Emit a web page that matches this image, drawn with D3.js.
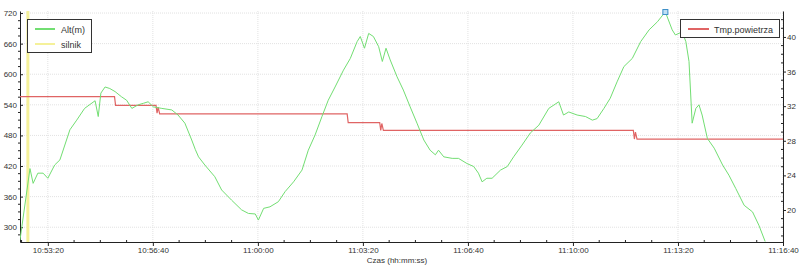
<!DOCTYPE html>
<html>
<head>
<meta charset="utf-8">
<script src="https://cdn.jsdelivr.net/npm/d3@7"></script>
<style>
  body { margin: 0; background: #fff; }
  svg { display: block; font-family: "Liberation Sans", Arial, sans-serif; }
  .axis text { font-size: 8px; fill: #333; }
  .axis path, .axis line { stroke: #222; }
</style>
</head>
<body>
<div class="canvas"></div>
<script>
// altitude readings (time, metres)
const altTimes = ["10:52:27","10:52:46","10:52:52","10:53:01","10:53:11","10:53:20","10:53:33","10:53:43","10:54:02","10:54:15",
  "10:54:30","10:54:50","10:54:56","10:55:01","10:55:09","10:55:18","10:55:28","10:55:40","10:55:50","10:56:00",
  "10:56:12","10:56:22","10:56:31","10:56:41","10:56:57","10:57:16","10:57:28","10:57:41","10:57:54","10:58:01",
  "10:58:07","10:58:19","10:58:38","10:58:51","10:59:10","10:59:29","10:59:42","10:59:55","11:00:01","11:00:11",
  "11:00:23","11:00:39","11:00:52","11:01:08","11:01:24","11:01:36","11:01:49","11:02:02","11:02:14","11:02:27",
  "11:02:43","11:02:56","11:03:09","11:03:15","11:03:23","11:03:31","11:03:40","11:03:50","11:03:57","11:04:04",
  "11:04:12","11:04:25","11:04:37","11:04:50","11:05:03","11:05:16","11:05:28","11:05:38","11:05:44","11:05:54",
  "11:06:10","11:06:22","11:06:38","11:06:51","11:07:00","11:07:07","11:07:16","11:07:26","11:07:42","11:07:55",
  "11:08:07","11:08:23","11:08:39","11:08:55","11:09:14","11:09:33","11:09:42","11:09:52","11:10:08","11:10:24",
  "11:10:37","11:10:46","11:10:59","11:11:11","11:11:24","11:11:37","11:11:53","11:12:09","11:12:25","11:12:41",
  "11:12:51","11:12:56","11:13:09","11:13:15","11:13:28","11:13:35","11:13:41","11:13:47","11:13:54","11:14:00",
  "11:14:06","11:14:16","11:14:29","11:14:45","11:14:57","11:15:10","11:15:26","11:15:42","11:15:54","11:16:06"];
const altValues = [275,415,386,406,406,396,422,432,491,510,
  533,548,517,563,575,572,566,556,549,533,
  540,543,546,536,533,530,520,504,471,452,
  438,422,399,373,353,334,327,326,314,337,
  340,350,370,389,412,451,481,517,549,575,
  608,631,664,674,651,680,674,654,625,651,
  628,595,569,536,504,471,451,442,451,438,
  435,435,425,419,406,389,396,396,412,419,
  438,461,485,500,533,546,520,526,520,517,
  510,513,533,553,585,615,631,664,687,703,
  716,722,687,677,683,664,625,504,533,540,
  520,474,455,422,402,376,343,330,304,272];

// air temperature (time, deg C)
const tempTimes = ["10:52:27","10:55:27","10:55:29","10:56:46","10:56:48","10:56:50","10:56:53","11:02:50","11:02:52",
  "11:03:52","11:03:54","11:03:56","11:03:59","11:11:55","11:11:57","11:11:59","11:12:02","11:16:40"];
const tempValues = [33.1,33.1,32.1,32.1,31.2,31.9,31.1,31.1,30.1,
  30.1,29.2,30.0,29.2,29.2,28.2,29.0,28.2,28.2];

// engine ("silnik") marker time
const engineTime = "10:52:42";

const xTickLabels = ["10:53:20","10:56:40","11:00:00","11:03:20","11:06:40","11:10:00","11:13:20","11:16:40"];
const altTicks = [300,360,420,480,540,600,660,720];
const tempTicks = [20,24,28,32,36,40];

const parse = d3.timeParse("%H:%M:%S");
const fmt = d3.timeFormat("%H:%M:%S");

const width = 800, height = 269;
const pLeft = 20, pRight = 783, pTop = 11, pBottom = 242;

const svg = d3.select(".canvas").append("svg")
  .attr("width", width).attr("height", height);

const x = d3.scaleTime()
  .domain([parse("10:52:27"), parse("11:16:40")])
  .range([pLeft, pRight]);
const yAlt = d3.scaleLinear().domain([271, 724]).range([pBottom, pTop]);
const yTmp = d3.scaleLinear().domain([16.3, 43.0]).range([pBottom, pTop]);

const xTicks = xTickLabels.map(parse);

// grid
const grid = svg.append("g");
grid.selectAll(".gx").data(xTicks).enter().append("line")
  .attr("x1", d => x(d)).attr("x2", d => x(d))
  .attr("y1", pTop).attr("y2", pBottom)
  .attr("stroke", "#e2e2e2").attr("stroke-dasharray", "1,1");
grid.selectAll(".gy").data(altTicks).enter().append("line")
  .attr("x1", pLeft).attr("x2", pRight)
  .attr("y1", d => yAlt(d)).attr("y2", d => yAlt(d))
  .attr("stroke", "#e2e2e2").attr("stroke-dasharray", "1,1");

// minor ticks
const minorX = d3.range(parse("10:52:30").getTime(), parse("11:16:41").getTime(), 50000)
  .map(t => new Date(t)).filter(d => xTicks.every(m => Math.abs(m - d) > 1000));
svg.append("g").selectAll("line").data(minorX).enter().append("line")
  .attr("x1", d => x(d)).attr("x2", d => x(d))
  .attr("y1", pBottom - 2).attr("y2", pBottom)
  .attr("stroke", "#222");
svg.append("g").selectAll("line").data(d3.range(285, 724, 15).filter(v => v % 60 !== 0)).enter().append("line")
  .attr("x1", pLeft - 2).attr("x2", pLeft)
  .attr("y1", d => yAlt(d)).attr("y2", d => yAlt(d))
  .attr("stroke", "#222");
svg.append("g").selectAll("line").data(d3.range(17, 43, 1).filter(v => v % 4 !== 0)).enter().append("line")
  .attr("x1", pRight - 2).attr("x2", pRight)
  .attr("y1", d => yTmp(d)).attr("y2", d => yTmp(d))
  .attr("stroke", "#222");

// axes
svg.append("g").attr("class", "axis")
  .attr("transform", `translate(0,${pBottom})`)
  .call(d3.axisBottom(x).tickValues(xTicks).tickFormat(fmt).tickSize(4).tickPadding(1).tickSizeOuter(0));
svg.append("g").attr("class", "axis")
  .attr("transform", `translate(${pLeft},0)`)
  .call(d3.axisLeft(yAlt).tickValues(altTicks).tickSize(-3).tickPadding(3).tickSizeOuter(0));
svg.append("g").attr("class", "axis")
  .attr("transform", `translate(${pRight},0)`)
  .call(d3.axisRight(yTmp).tickValues(tempTicks).tickSize(3).tickPadding(1).tickSizeOuter(0));

svg.append("text")
  .attr("x", 397).attr("y", 263)
  .attr("text-anchor", "middle")
  .style("font-size", "8px").attr("fill", "#333")
  .text("Czas (hh:mm:ss)");

// data lines
svg.append("clipPath").attr("id", "plot")
  .append("rect").attr("x", pLeft).attr("y", pTop - 4).attr("width", pRight - pLeft).attr("height", pBottom - pTop + 4);

const plot = svg.append("g").attr("clip-path", "url(#plot)");

plot.append("line")
  .attr("x1", x(parse(engineTime))).attr("x2", x(parse(engineTime)))
  .attr("y1", pTop).attr("y2", pBottom)
  .attr("stroke", "#f5f19a").attr("stroke-width", 3);

const altData = altTimes.map((t, i) => ({ t: parse(t), v: altValues[i] }));
const tempData = tempTimes.map((t, i) => ({ t: parse(t), v: tempValues[i] }));

plot.append("path")
  .datum(tempData)
  .attr("fill", "none").attr("stroke", "#e06464").attr("stroke-width", 1.2)
  .attr("d", d3.line().x(d => x(d.t)).y(d => yTmp(d.v)));

plot.append("path")
  .datum(altData)
  .attr("fill", "none").attr("stroke", "#72de72").attr("stroke-width", 1)
  .attr("d", d3.line().x(d => x(d.t)).y(d => yAlt(d.v)));

// max altitude marker
const maxPt = altData[d3.maxIndex(altData, d => d.v)];
svg.append("rect")
  .attr("x", x(maxPt.t) - 2.5).attr("y", yAlt(maxPt.v) - 2.5)
  .attr("width", 5).attr("height", 5)
  .attr("fill", "#bfe0f5").attr("stroke", "#3c8fc8").attr("stroke-width", 1);

// legends
const leg1 = svg.append("g");
leg1.append("rect").attr("x", 27.5).attr("y", 19.5).attr("width", 64).attr("height", 33)
  .attr("fill", "#fff").attr("stroke", "#333");
[["Alt(m)", "#72de72", 29], ["silnik", "#f5f19a", 44]].forEach(([name, c, yy]) => {
  leg1.append("line").attr("x1", 35).attr("x2", 55).attr("y1", yy).attr("y2", yy)
    .attr("stroke", c).attr("stroke-width", 2);
  leg1.append("text").attr("x", 61).attr("y", yy + 3.5).style("font-size", "9px").attr("fill", "#333").text(name);
});

const leg2 = svg.append("g");
leg2.append("rect").attr("x", 680.5).attr("y", 19.5).attr("width", 99).attr("height", 18)
  .attr("fill", "#fff").attr("stroke", "#333");
leg2.append("line").attr("x1", 688).attr("x2", 709).attr("y1", 29).attr("y2", 29)
  .attr("stroke", "#e06464").attr("stroke-width", 2);
leg2.append("text").attr("x", 714).attr("y", 32.5).style("font-size", "9px").attr("fill", "#333").text("Tmp.powietrza");
</script>
</body>
</html>
